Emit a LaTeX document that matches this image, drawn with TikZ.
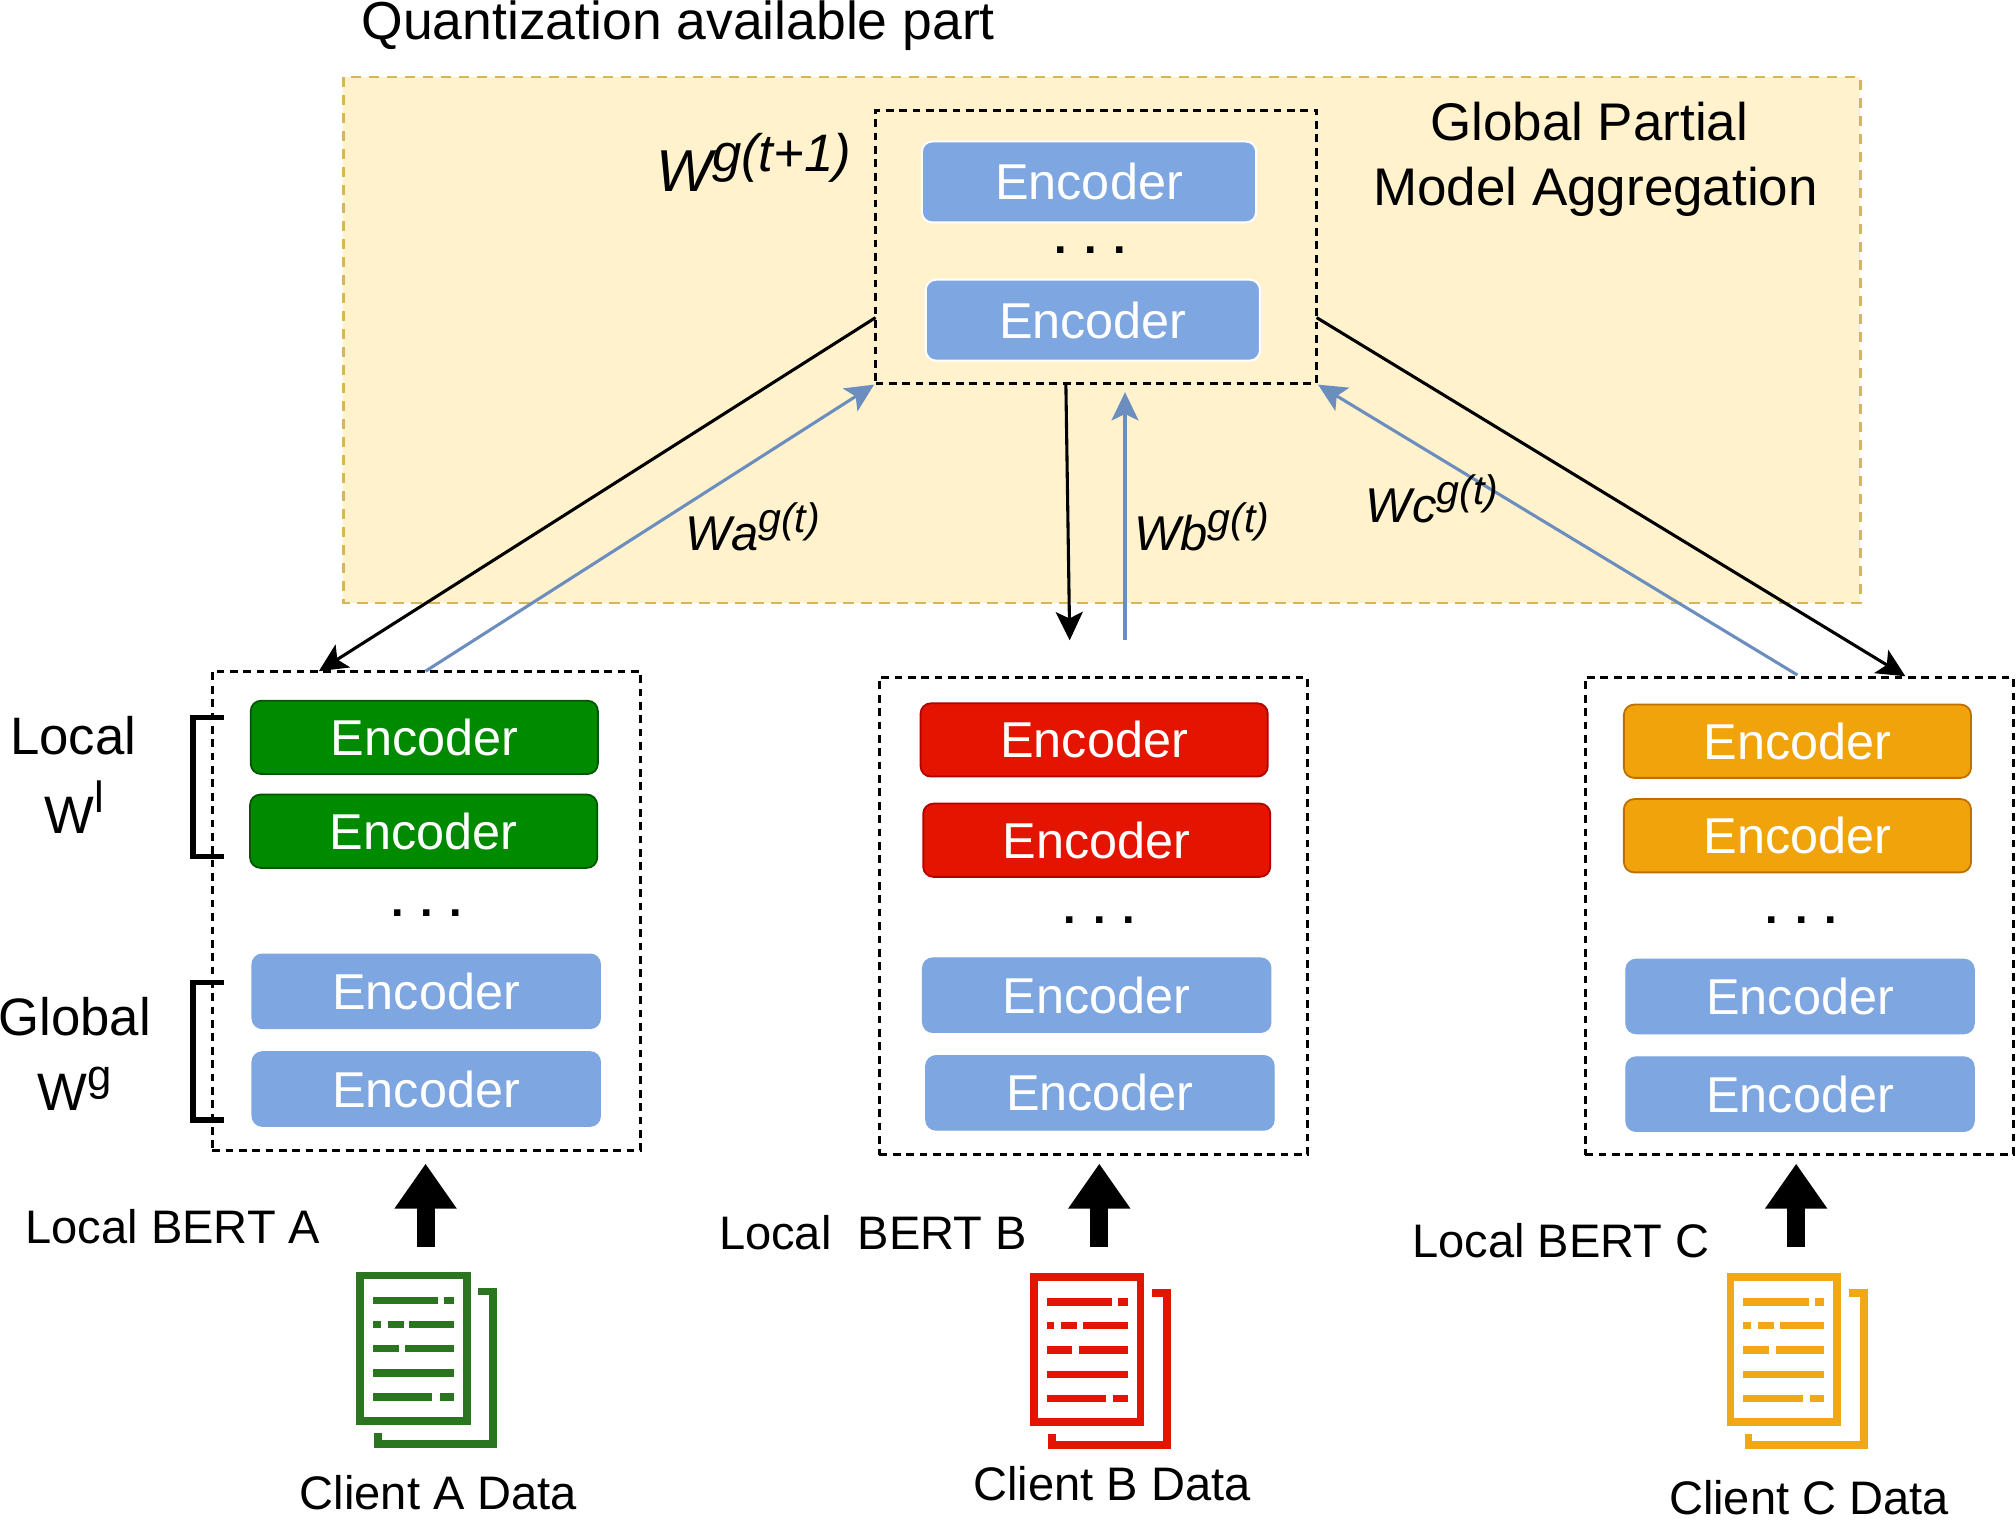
\documentclass[tikz,border=0pt]{standalone}
\usepackage{fontspec}
\setmainfont{Liberation Sans}
\usetikzlibrary{arrows.meta}
\newcommand\fsz[1]{\fontsize{#1}{#1}\selectfont}
\newcommand\wsup[5]{{\itshape\fsz{#1}#2\raisebox{#4}{\fsz{#3}#5}}}
\definecolor{panelfill}{HTML}{FFF2CC}
\definecolor{paneldraw}{HTML}{D6B656}
\definecolor{encblue}{HTML}{7EA6E0}
\definecolor{linkblue}{HTML}{6C8EBF}
\definecolor{encgreen}{HTML}{008A00}
\definecolor{encgreend}{HTML}{005700}
\definecolor{encred}{HTML}{E51400}
\definecolor{encredd}{HTML}{B20000}
\definecolor{encorange}{HTML}{F0A30A}
\definecolor{encoranged}{HTML}{BD7000}
\definecolor{docgreen}{HTML}{2B7520}
\definecolor{docred}{HTML}{E51400}
\definecolor{docorange}{HTML}{F0A818}
\tikzset{
  panel/.style={fill=panelfill,draw=paneldraw,line width=1pt,dash pattern=on 4pt off 3pt},
  dbox/.style={draw=black,line width=1.15pt,dash pattern=on 3pt off 2.2pt,inner sep=0pt},
  enc/.style={rounded corners=4pt,text=white,font=\fsz{19.6},inner sep=0pt,minimum width=135.5pt,minimum height=29pt},
  encb/.style={enc,fill=encblue,draw=encblue},
  enct/.style={enc,fill=encblue,draw=white,line width=0.8pt,minimum width=130pt,minimum height=31.5pt},
  encg/.style={enc,fill=encgreen,draw=encgreend,line width=0.7pt,minimum width=135pt,minimum height=28.5pt},
  encr/.style={enc,fill=encred,draw=encredd,line width=0.7pt,minimum width=135pt,minimum height=28.5pt},
  enco/.style={enc,fill=encorange,draw=encoranged,line width=0.7pt,minimum width=135pt,minimum height=28.5pt},
  lab/.style={inner sep=0pt,anchor=base},
  wlab/.style={inner sep=0pt,anchor=base west},
  ell/.style={inner sep=0pt,anchor=base,font=\bfseries\fsz{17.5}},
  blk/.style={draw=black,line width=1.2pt,-{Stealth[length=11pt,width=10.5pt,inset=2.5pt]}},
  blu/.style={draw=linkblue,line width=1.2pt,-{Stealth[length=11pt,width=10.5pt,inset=2.5pt]}},
  feed/.style={draw=black,line width=7pt,-{Triangle[length=17.5pt,width=23pt]}},
  brk/.style={draw=black,line width=2.1pt},
  pics/docicon/.style={code={
    \draw[#1,line width=3pt] (3,3) rectangle (86,116);
    \draw[#1,line width=3pt] (95,15.5) -- (106.5,15.5) -- (106.5,134) -- (17,134) -- (17,125.6);
    \foreach \ya/\xa/\xb in {22.5/13/64,22.5/68.5/76,41/13/19,41/24.4/37,41/41.4/76,60/13/33,60/38/76,79/13/76,97.6/13/59,97.6/65/76}
      \draw[#1,line width=2.9pt] (\xa,\ya) -- (\xb,\ya);
  }}
}
\begin{document}
\begin{tikzpicture}[x=0.5pt,y=-0.5pt]
\useasboundingbox (0,0) rectangle (1568,1184.6);
% panel
\path[panel] (267,60) rectangle (1447,469);
\node[lab,font=\fsz{20.8}] (qap) at (527.5,31) {Quantization available part};
\node[lab,font=\fsz{20.6}] (gp1) at (1236,109) {Global Partial};
\node[lab,font=\fsz{20.6}] (gp2) at (1241,160) {Model Aggregation};
\node[wlab] (wnext) at (510,149) {\wsup{23}{W}{20.5}{8pt}{g(t+1)}};
% global box
\node[dbox,minimum width=171.5pt,minimum height=106pt] (gbox) at (852.5,192) {};
\node[enct] (g1) at (847,141.5) {Encoder};
\node[ell] (gd) at (848,197) {. . .};
\node[enct] (g2) at (850,249) {Encoder};
% client A
\node[dbox,minimum width=166.5pt,minimum height=186.5pt] (boxA) at (331.5,708.5) {};
\node[encg] (a1) at (330,573.5) {Encoder};
\node[encg] (a2) at (329.5,646.5) {Encoder};
\node[ell] (ad) at (332,713) {. . .};
\node[encb] (a3) at (331.5,771) {Encoder};
\node[encb] (a4) at (331.5,847) {Encoder};
% client B
\node[dbox,minimum width=166.5pt,minimum height=185.5pt] (boxB) at (850.5,712.5) {};
\node[encr] (b1) at (851,575.5) {Encoder};
\node[encr] (b2) at (853,653.5) {Encoder};
\node[ell] (bd) at (855,718) {. . .};
\node[encb] (b3) at (853,774) {Encoder};
\node[encb] (b4) at (855.5,850) {Encoder};
% client C
\node[dbox,minimum width=166.5pt,minimum height=185.5pt] (boxC) at (1399.5,712.5) {};
\node[enco] (c1) at (1398,576.5) {Encoder};
\node[enco] (c2) at (1398,650) {Encoder};
\node[ell] (cd) at (1401,718) {. . .};
\node[encb] (c3) at (1400,775) {Encoder};
\node[encb] (c4) at (1400,851) {Encoder};
% link ends
\coordinate (gl) at (681,247);
\coordinate (gr) at (1024,247);
\coordinate (gb1) at (829,298);
\coordinate (gb2) at (875,305);
\coordinate (ain) at (248,522);
\coordinate (aout) at (331,522);
\coordinate (bin) at (832,498);
\coordinate (bout) at (875,498);
\coordinate (cin) at (1482,526);
\coordinate (cout) at (1398,525);
\draw[blk] (gl) -- (ain);
\draw[blu] (aout) -- (gbox.south west);
\draw[blk] (gb1) -- (bin);
\draw[blu] (bout) -- (gb2);
\draw[blu] (cout) -- (gbox.south east);
\draw[blk] (gr) -- (cin);
\node[wlab] (wa) at (533,428) {\wsup{19}{Wa}{16}{7pt}{g(t)}};
\node[wlab] (wb) at (882,428) {\wsup{19}{Wb}{16}{7pt}{g(t)}};
\node[wlab] (wc) at (1062,406) {\wsup{19}{Wc}{16}{7pt}{g(t)}};
% brackets
\coordinate (l1) at (174,558); \coordinate (l2) at (174,666);
\coordinate (k1) at (174,764); \coordinate (k2) at (174,871);
\draw[brk] (l1) -- (150,558) -- (150,666) -- (l2);
\draw[brk] (k1) -- (150,764) -- (150,871) -- (k2);
\node[lab,font=\fsz{20.5}] (lt) at (57,587) {Local};
\node[lab,font=\fsz{20.5}] (lw) at (58,648) {W\raisebox{8pt}{\fsz{17}l}};
\node[lab,font=\fsz{20.5}] (gt) at (58,805) {Global};
\node[lab,font=\fsz{20.5}] (gw) at (58,864) {W\raisebox{8pt}{\fsz{17}g}};
% feeds
\coordinate (fa0) at (331,970); \coordinate (fa1) at (331,905);
\coordinate (fb0) at (855,970); \coordinate (fb1) at (855,905);
\coordinate (fc0) at (1397,970); \coordinate (fc1) at (1397,905);
\draw[feed] (fa0) -- (fa1);
\draw[feed] (fb0) -- (fb1);
\draw[feed] (fc0) -- (fc1);
\node[lab,font=\fsz{18.3}] (la) at (134.5,967) {Local BERT A};
\node[lab,font=\fsz{18.3}] (lb) at (679,972) {Local \ BERT B};
\node[lab,font=\fsz{18.3}] (lc) at (1214,978) {Local BERT C};
% documents
\pic at (277,989) {docicon=docgreen};
\pic at (801,990) {docicon=docred};
\pic at (1343,990) {docicon=docorange};
\node[lab,font=\fsz{18.3}] (ca) at (341,1174) {Client A Data};
\node[lab,font=\fsz{18.3}] (cb) at (865,1167) {Client B Data};
\node[lab,font=\fsz{18.3}] (cc) at (1407,1178) {Client C Data};
\end{tikzpicture}
\end{document}
